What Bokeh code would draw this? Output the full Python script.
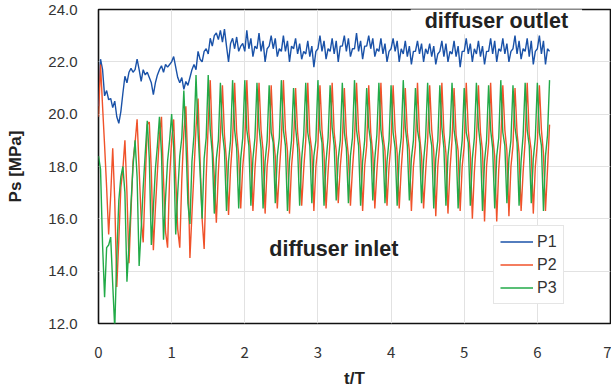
from bokeh.plotting import figure
from bokeh.models import Range1d, FixedTicker, CustomJSTickFormatter, Label
from bokeh.embed import file_html
from bokeh.resources import INLINE

# sampling: 36 samples per t/T (6 samples per pressure cycle)
SAMPLES_PER_T = 36

# P1 (diffuser outlet), one row per cycle of 1/6 T
P1 = [
    20.3, 22.1, 21.7, 20.7, 20.9, 20.55,
    20.6, 20.25, 20.5, 19.9, 19.65, 20.1,
    20.8, 21.45, 21.2, 21.6, 21.75, 21.6,
    21.7, 22.1, 21.7, 21.25, 21.7, 21.5,
    21.6, 21.4, 21.2, 20.75, 21.2, 21.5,
    21.7, 21.85, 21.6, 21.9, 21.8, 21.9,
    22.0, 22.2, 21.8, 21.4, 21.2, 21.4,
    20.95, 21.25, 21.1, 21.4, 21.7, 21.9,
    21.7, 22.4, 22.1, 22.0, 22.4, 22.5,
    22.3, 22.9, 22.6, 23.0, 23.1, 22.85,
    23.2, 22.75, 23.25, 22.6, 22.0, 22.7,
    22.9, 22.5, 22.95, 22.4, 22.6, 22.7,
    22.4, 23.2, 22.5, 22.9, 22.2, 22.6,
    22.5, 23.1, 22.4, 22.8, 22.0, 22.5,
    22.6, 23.0, 22.5, 22.9, 22.2, 22.5,
    22.4, 23.0, 22.4, 22.8, 22.0, 22.6,
    22.5, 22.9, 22.3, 22.7, 22.1, 22.4,
    22.3, 22.8, 22.2, 22.6, 21.8, 22.4,
    22.5, 23.0, 22.4, 22.8, 22.1, 22.5,
    22.4, 22.9, 22.3, 22.8, 22.0, 22.6,
    22.6, 23.0, 22.4, 22.9, 22.2, 22.5,
    22.5, 23.1, 22.4, 22.8, 22.1, 22.6,
    22.6, 23.0, 22.5, 22.9, 22.2, 22.5,
    22.4, 22.9, 22.3, 22.7, 22.0, 22.4,
    22.5, 22.9, 22.4, 22.8, 22.0, 22.5,
    22.3, 22.8, 22.2, 22.6, 21.9, 22.4,
    22.4, 22.8, 22.3, 22.7, 22.0, 22.5,
    22.3, 22.7, 22.2, 22.6, 21.9, 22.3,
    22.4, 22.8, 22.2, 22.7, 22.0, 22.4,
    22.3, 22.8, 22.2, 22.6, 21.8, 22.4,
    22.4, 22.9, 22.3, 22.7, 22.0, 22.5,
    22.3, 22.8, 22.2, 22.6, 21.9, 22.4,
    22.4, 22.9, 22.3, 22.8, 22.0, 22.5,
    22.4, 22.9, 22.3, 22.7, 22.0, 22.4,
    22.5, 23.0, 22.3, 22.8, 22.1, 22.5,
    22.4, 22.9, 22.2, 22.8, 21.9, 22.4,
    22.5, 23.0, 22.3, 22.8, 21.9, 22.5,
    22.4,
]

# P2 (diffuser inlet)
P2 = [
    19.9, 21.9, 20.3, 18.8, 17.2, 15.4,
    16.9, 18.7, 16.7, 13.4, 15.2, 17.2,
    17.9, 19.0, 17.0, 14.3, 16.3, 18.2,
    18.9, 19.8, 17.9, 16.0, 15.1, 17.4,
    19.6, 19.7, 17.8, 14.8, 16.4, 17.8,
    19.2, 19.9, 17.5, 15.5, 14.9, 17.6,
    19.0, 19.8, 17.6, 15.6, 14.9, 17.5,
    19.3, 20.3, 18.0, 14.5, 16.2, 17.8,
    19.5, 20.6, 18.2, 16.0, 14.85, 17.6,
    19.6, 21.3, 19.0, 17.6, 15.85, 17.8,
    19.2, 21.1, 19.2, 18.2, 16.15, 17.9,
    19.0, 21.2, 19.3, 18.4, 16.4, 18.0,
    18.9, 21.3, 19.3, 18.5, 16.3, 17.9,
    19.0, 21.2, 19.4, 18.6, 16.2, 18.0,
    18.8, 21.1, 19.2, 18.4, 16.4, 17.8,
    19.0, 21.3, 19.4, 18.6, 16.2, 18.0,
    18.9, 21.0, 19.3, 18.5, 16.5, 17.9,
    19.0, 21.2, 19.2, 18.6, 16.3, 18.0,
    18.8, 21.1, 19.4, 18.5, 16.4, 17.8,
    19.0, 21.2, 19.3, 18.6, 16.6, 18.0,
    18.9, 21.0, 19.2, 18.4, 16.5, 17.9,
    19.0, 21.2, 19.4, 18.6, 16.3, 18.0,
    18.8, 21.1, 19.3, 18.5, 16.4, 17.8,
    19.0, 21.2, 19.2, 18.6, 16.5, 18.0,
    18.9, 21.1, 19.4, 18.5, 16.4, 17.9,
    19.0, 21.0, 19.3, 18.6, 16.3, 18.0,
    18.8, 21.2, 19.2, 18.4, 16.4, 17.8,
    19.0, 21.1, 19.4, 18.6, 16.1, 18.0,
    18.9, 21.2, 19.3, 18.5, 16.2, 17.9,
    19.0, 21.0, 19.2, 18.6, 16.3, 18.0,
    18.8, 21.2, 19.4, 18.5, 16.0, 17.8,
    19.0, 21.1, 19.3, 18.6, 15.9, 18.0,
    18.9, 21.2, 19.2, 18.4, 15.9, 17.9,
    19.0, 21.1, 19.4, 18.6, 16.1, 18.0,
    18.8, 21.0, 19.3, 18.5, 16.3, 17.8,
    19.0, 21.2, 19.2, 18.6, 16.2, 18.0,
    18.9, 21.1, 19.4, 18.5, 16.3, 17.9,
    19.6,
]

# P3 (diffuser inlet)
P3 = [
    18.4, 17.9, 15.0, 13.0, 14.9, 15.0,
    15.3, 13.5, 11.8, 14.6, 16.7, 17.6,
    18.0, 17.0, 13.6, 15.0, 16.6, 18.0,
    19.0, 17.6, 14.2, 15.6, 17.2, 18.5,
    19.75, 18.3, 15.0, 16.4, 17.9, 18.8,
    19.9, 18.5, 15.2, 16.8, 18.2, 19.0,
    20.0, 18.7, 15.4, 17.0, 18.4, 19.1,
    20.9, 19.0, 16.6, 15.8, 18.2, 19.2,
    21.5, 19.3, 17.8, 16.0, 18.3, 19.1,
    21.5, 19.4, 18.5, 16.2, 18.3, 19.0,
    21.2, 19.3, 18.6, 16.3, 18.2, 19.0,
    21.3, 19.4, 18.7, 16.4, 18.3, 19.1,
    21.3, 19.4, 18.8, 16.5, 18.3, 19.1,
    21.2, 19.5, 18.7, 16.4, 18.2, 19.0,
    21.1, 19.3, 18.9, 16.6, 18.4, 19.1,
    21.3, 19.4, 18.8, 16.3, 18.2, 19.0,
    21.0, 19.5, 18.7, 16.5, 18.3, 19.2,
    21.2, 19.3, 18.8, 16.6, 18.4, 19.0,
    21.3, 19.4, 18.9, 16.5, 18.2, 19.1,
    21.1, 19.5, 18.8, 16.7, 18.3, 19.0,
    21.2, 19.3, 18.7, 16.6, 18.4, 19.1,
    21.3, 19.4, 18.8, 16.5, 18.2, 19.0,
    21.0, 19.5, 18.9, 16.7, 18.3, 19.2,
    21.2, 19.4, 18.8, 16.6, 18.2, 19.0,
    21.1, 19.3, 18.7, 16.5, 18.4, 19.1,
    21.3, 19.5, 18.8, 16.7, 18.3, 19.0,
    21.0, 19.4, 18.9, 16.6, 18.2, 19.1,
    21.2, 19.3, 18.8, 16.4, 18.3, 19.0,
    21.1, 19.5, 18.7, 16.5, 18.4, 19.2,
    21.2, 19.4, 18.8, 16.4, 18.2, 19.0,
    21.0, 19.3, 18.9, 16.5, 18.3, 19.1,
    21.2, 19.5, 18.8, 16.3, 18.2, 19.0,
    21.1, 19.4, 18.7, 16.4, 18.4, 19.1,
    21.3, 19.3, 18.8, 16.6, 18.3, 19.0,
    21.1, 19.5, 18.9, 16.5, 18.2, 19.2,
    21.2, 19.4, 18.8, 16.6, 18.3, 19.1,
    21.2, 19.3, 18.8, 16.3, 18.4, 19.2,
    21.3,
]

t = [k / SAMPLES_PER_T for k in range(len(P1))]

X_TICKS = [0, 1, 2, 3, 4, 5, 6, 7]
Y_TICKS = [12, 14, 16, 18, 20, 22, 24]
SERIES = [("P1", P1, "#1a52a8"), ("P2", P2, "#f0522a"), ("P3", P3, "#22aa48")]
X_LABEL = "t/T"
Y_LABEL = "Ps [MPa]"
OUTLET_TEXT = "diffuser outlet"
INLET_TEXT = "diffuser inlet"

p = figure(width=611, height=390, output_backend="svg", toolbar_location=None,
           x_range=Range1d(0, 7), y_range=Range1d(12, 24),
           min_border_left=98, min_border_right=1, min_border_top=9,
           min_border_bottom=67)
p.background_fill_color = "white"
p.border_fill_color = "white"
p.outline_line_color = "#111111"
p.outline_line_width = 1.6

for name, ys, col in SERIES:
    p.line(t, ys, color=col, line_width=1.4, legend_label=name)

for ax in (p.xaxis[0], p.yaxis[0]):
    ax.axis_line_color = None
    ax.major_tick_line_color = None
    ax.minor_tick_line_color = None
    ax.major_tick_out = 0
    ax.major_tick_in = 0
    ax.major_label_text_color = "#333333"
    ax.axis_label_text_font = "Liberation Sans"
    ax.axis_label_text_font_style = "bold"
    ax.axis_label_text_font_size = "17px"
    ax.axis_label_text_color = "#222222"

p.xaxis.major_label_text_font = "Noto Sans CJK JP"
p.xaxis.major_label_text_font_size = "15px"
p.yaxis.major_label_text_font = "Liberation Sans"
p.yaxis.major_label_text_font_size = "15px"

p.xaxis.ticker = FixedTicker(ticks=X_TICKS)
p.yaxis.ticker = FixedTicker(ticks=Y_TICKS)
p.yaxis.formatter = CustomJSTickFormatter(code="return tick.toFixed(1);")
p.xaxis.axis_label = X_LABEL
p.yaxis.axis_label = Y_LABEL
p.xaxis.major_label_standoff = 23
p.xaxis.axis_label_standoff = 8
p.yaxis.major_label_standoff = 21
p.yaxis.axis_label_standoff = 20

p.xgrid.grid_line_color = "#e2e2e2"
p.ygrid.grid_line_color = "#e2e2e2"

lg = p.legend[0]
lg.location = (395, 19)
lg.label_text_font = "Liberation Sans"
lg.label_text_font_size = "16px"
lg.label_text_color = "#333333"
lg.border_line_color = "#cccccc"
lg.border_line_width = 1
lg.background_fill_color = "white"
lg.background_fill_alpha = 1
lg.padding = 6
lg.spacing = 4
lg.margin = 0
lg.glyph_width = 33
lg.glyph_height = 19
lg.label_height = 19
lg.label_standoff = 4

p.add_layout(Label(x=5.44, y=23.59, text=OUTLET_TEXT, text_align="center",
                   text_baseline="middle", text_font="Liberation Sans",
                   text_font_style="bold", text_font_size="21.5px",
                   text_color="#222222", background_fill_color="white",
                   background_fill_alpha=1.0,
                   padding=dict(left=14, right=14, top=3, bottom=1)))
p.add_layout(Label(x=3.217, y=14.85, text=INLET_TEXT, text_align="center",
                   text_baseline="middle", text_font="Liberation Sans",
                   text_font_style="bold", text_font_size="21.5px",
                   text_color="#222222"))

open("out.html", "w").write(file_html(p, INLINE))
